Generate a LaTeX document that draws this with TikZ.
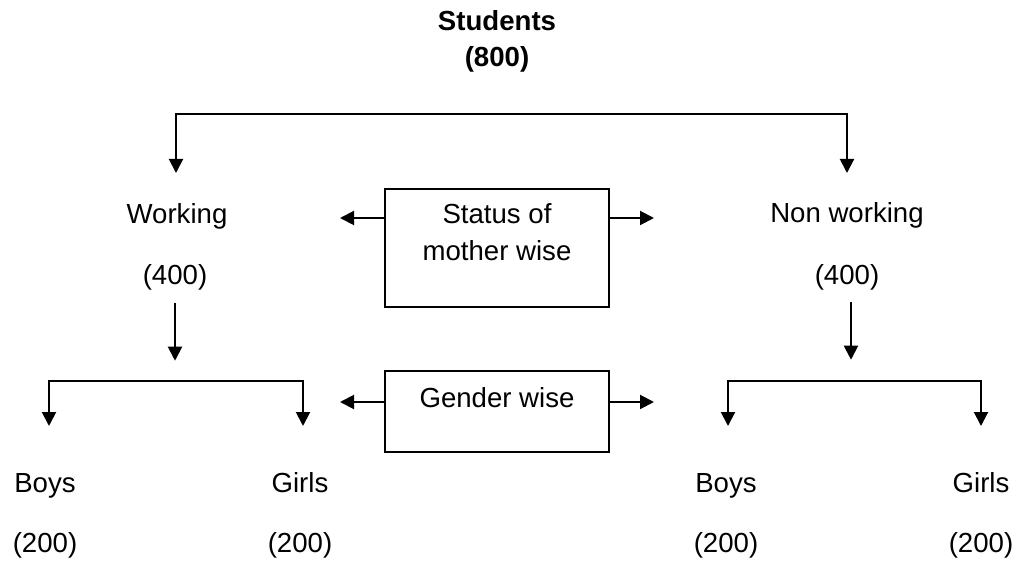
\documentclass[tikz,border=0pt]{standalone}
\usepackage{fontspec}
\setmainfont{Liberation Sans}
\usetikzlibrary{arrows.meta}

\begin{document}
\begin{tikzpicture}[x=0.5pt, y=-0.5pt, line width=1pt,
	txt/.style={anchor=base, inner sep=0pt, font=\fontsize{13.8}{18.5}\selectfont},
	box/.style={draw, minimum width=112pt, inner sep=0pt},
	arr/.style={-{Triangle[length=7pt, width=7pt]}},
	dblarr/.style={{Triangle[length=7pt, width=7pt]}-{Triangle[length=7pt, width=7pt]}}]
	\useasboundingbox (0,0) rectangle (1017,561);

	\node [txt] (stud) at (497,31) {\bfseries Students};
	\node [txt] (studnum) at (497,67) {\bfseries (800)};

	\node [txt] (work) at (177,224) {Working};
	\node [txt] (worknum) at (175,285) {(400)};
	\node [txt] (nonwork) at (847,223) {Non working};
	\node [txt] (nonworknum) at (847,285) {(400)};

	\node [box, minimum height=59pt] (status) at (497,248) {};
	\node [txt, align=center] (statustxt) at (497,261) {Status of\\mother wise};
	\node [box, minimum height=40.5pt] (gender) at (497,411.5) {};
	\node [txt] (gendertxt) at (497,407) {Gender wise};

	\node [txt] (wboys) at (45,492) {Boys};
	\node [txt] (wboysnum) at (45,552) {(200)};
	\node [txt] (wgirls) at (300,492) {Girls};
	\node [txt] (wgirlsnum) at (300,552) {(200)};
	\node [txt] (nboys) at (726,492) {Boys};
	\node [txt] (nboysnum) at (726,552) {(200)};
	\node [txt] (ngirls) at (981,492) {Girls};
	\node [txt] (ngirlsnum) at (981,552) {(200)};

	% arrow ends
	\coordinate (workin) at (176,173);
	\coordinate (nonworkin) at (847,173);
	\coordinate (wboysin) at (49,426);
	\coordinate (wgirlsin) at (303,426);
	\coordinate (nboysin) at (728,426);
	\coordinate (ngirlsin) at (981,426);

	\draw [dblarr] (workin) -- ++(0,-59) -| (nonworkin);
	\draw [arr] ([yshift=-5.5pt]worknum.south) -- ++(0,58);
	\draw [arr] ([xshift=2pt, yshift=-5pt]nonworknum.south) -- ++(0,58);
	\draw [dblarr] (wboysin) -- ++(0,-45) -| (wgirlsin);
	\draw [dblarr] (nboysin) -- ++(0,-45) -| (ngirlsin);

	\draw [arr] ([yshift=15pt]status.west) -- ++(-44,0);
	\draw [arr] ([yshift=15pt]status.east) -- ++(44,0);
	\draw [arr] ([yshift=4.75pt]gender.west) -- ++(-44,0);
	\draw [arr] ([yshift=4.75pt]gender.east) -- ++(44,0);
\end{tikzpicture}
\end{document}
